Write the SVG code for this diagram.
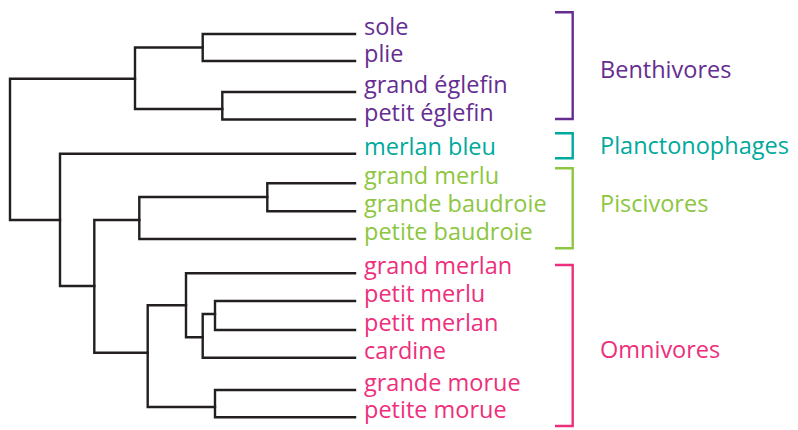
<svg xmlns="http://www.w3.org/2000/svg" width="798" height="430" viewBox="0 0 798 430">
  <style>
    .tree { fill: none; stroke: #231f20; stroke-width: 2.4; stroke-linecap: square; }
    .br { fill: none; stroke-width: 2.4; }
    text { font-family: "Open Sans", "Noto Sans", sans-serif; font-size: 23.5px; }
    .benth { fill: #662d91; } .plan { fill: #00a99d; } .pisc { fill: #8dc63f; } .omni { fill: #ed2f7c; }
    .sb { stroke: #662d91; } .sp { stroke: #00a99d; } .sg { stroke: #8dc63f; } .so { stroke: #ed2f7c; }
  </style>
  <rect width="798" height="430" fill="#ffffff"/>

  <!-- dendrogram branches -->
  <g id="connectors" class="tree">
    <!-- root -->
    <path d="M135,78.7 H10 V220 H60"/>
    <!-- benthivores clade -->
    <path d="M202.7,47.5 H135 V109 H222.3"/>
    <path d="M355,34 H202.7 V61 H355"/>
    <path d="M355,92 H222.3 V119.5 H355"/>
    <!-- merlan bleu + rest -->
    <path d="M355,153.7 H60 V286 H94.3"/>
    <!-- piscivores clade -->
    <path d="M139.3,220 H94.3 V352.7 H147.7"/>
    <path d="M267.3,197 H139.3 V239 H355"/>
    <path d="M355,183.3 H267.3 V211.3 H355"/>
    <!-- omnivores clade -->
    <path d="M186,305.3 H147.7 V407 H215"/>
    <path d="M355,273.3 H186 V337.3 H202.7"/>
    <path d="M215,314 H202.7 V357.7 H355"/>
    <path d="M355,301 H215 V330 H355"/>
    <path d="M355,390 H215 V417.3 H355"/>
  </g>

  <!-- species -->
  <g id="sole"><text class="benth" x="364" y="35">sole</text></g>
  <g id="plie"><text class="benth" x="364" y="62">plie</text></g>
  <g id="grand-eglefin"><text class="benth" x="364" y="93">grand églefin</text></g>
  <g id="petit-eglefin"><text class="benth" x="364" y="120.5">petit églefin</text></g>
  <g id="merlan-bleu"><text class="plan" x="364" y="154.7">merlan bleu</text></g>
  <g id="grand-merlu"><text class="pisc" x="364" y="184.3">grand merlu</text></g>
  <g id="grande-baudroie"><text class="pisc" x="364" y="212.3">grande baudroie</text></g>
  <g id="petite-baudroie"><text class="pisc" x="364" y="240">petite baudroie</text></g>
  <g id="grand-merlan"><text class="omni" x="364" y="274.3">grand merlan</text></g>
  <g id="petit-merlu"><text class="omni" x="364" y="302">petit merlu</text></g>
  <g id="petit-merlan"><text class="omni" x="364" y="331">petit merlan</text></g>
  <g id="cardine"><text class="omni" x="364" y="358.7">cardine</text></g>
  <g id="grande-morue"><text class="omni" x="364" y="391">grande morue</text></g>
  <g id="petite-morue"><text class="omni" x="364" y="418.3">petite morue</text></g>

  <!-- feeding groups -->
  <g id="benthivores">
    <path class="br sb" d="M555,12.3 H572.7 V119 H555"/>
    <text class="benth" x="600" y="77.7">Benthivores</text>
  </g>
  <g id="planctonophages">
    <path class="br sp" d="M555,133.3 H572.7 V158.3 H555"/>
    <text class="plan" x="600" y="154">Planctonophages</text>
  </g>
  <g id="piscivores">
    <path class="br sg" d="M555,168.3 H572.7 V248.3 H555"/>
    <text class="pisc" x="600" y="211.7">Piscivores</text>
  </g>
  <g id="omnivores">
    <path class="br so" d="M555,265 H572.7 V426 H555"/>
    <text class="omni" x="600" y="358.3">Omnivores</text>
  </g>
</svg>
